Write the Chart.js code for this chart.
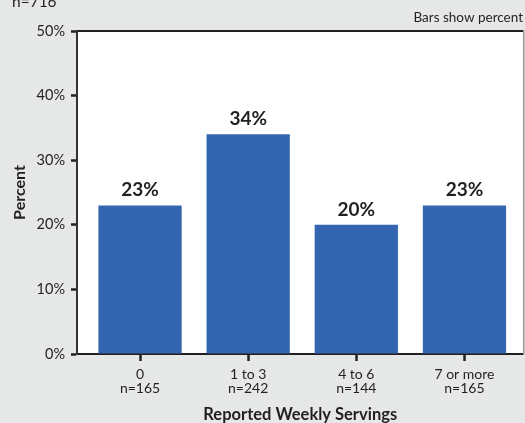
<!DOCTYPE html>
<html>
<head>
<meta charset="utf-8">
<script src="https://cdn.jsdelivr.net/npm/chart.js@4.4.1/dist/chart.umd.min.js"></script>
<style>
  html, body { margin: 0; padding: 0; background: #e6e7e7; }
  #wrap { width: 525px; height: 423px; }
</style>
</head>
<body>
<div id="wrap"><canvas id="chart" width="525" height="423"></canvas></div>
<script>
// Weekly servings survey: share of respondents in each servings group
const categories = ['0', '1 to 3', '4 to 6', '7 or more'];
const sampleSizes = ['n=165', 'n=242', 'n=144', 'n=165'];
const percents = [23, 34, 20, 23];
const yTicks = [0, 10, 20, 30, 40, 50];
const totalNote = 'n=716';
const valueNote = 'Bars show percent';
const xTitle = 'Reported Weekly Servings';
const yTitle = 'Percent';

const FONT = "Lato, 'DejaVu Sans Condensed', sans-serif";
const INK = '#231f20';
const BAR = '#3465b0';
const PAGE = '#e6e7e7';

// Grey page with a white plotting panel
const panelPlugin = {
  id: 'panel',
  beforeDraw(chart) {
    const { ctx, chartArea: a } = chart;
    ctx.save();
    ctx.fillStyle = PAGE;
    ctx.fillRect(0, 0, chart.width, chart.height);
    ctx.fillStyle = '#ffffff';
    ctx.fillRect(a.left, a.top, a.right - a.left, a.bottom - a.top);
    ctx.restore();
  }
};

// Percent labels above each bar plus the two corner notes
const labelPlugin = {
  id: 'barLabels',
  afterDraw(chart) {
    const { ctx } = chart;
    const meta = chart.getDatasetMeta(0);
    ctx.save();
    ctx.fillStyle = INK;
    ctx.textAlign = 'center';
    ctx.textBaseline = 'alphabetic';
    ctx.font = `bold 19px ${FONT}`;
    meta.data.forEach((bar, i) => {
      ctx.fillText(percents[i] + '%', bar.x, bar.y - 9);
    });
    ctx.font = `15.5px ${FONT}`;
    ctx.textAlign = 'left';
    ctx.fillText(totalNote, 12, 7);
    ctx.font = `13.5px ${FONT}`;
    ctx.textAlign = 'right';
    ctx.fillText(valueNote, 523, 22);
    ctx.restore();
  }
};

new Chart(document.getElementById('chart'), {
  type: 'bar',
  data: {
    datasets: [{
      data: percents.map((v, i) => ({ x: i, y: v })),
      backgroundColor: BAR,
      borderWidth: 0,
      categoryPercentage: 1,
      barPercentage: 0.77
    }]
  },
  options: {
    responsive: false,
    animation: false,
    devicePixelRatio: 1,
    layout: { padding: 0 },
    plugins: {
      legend: { display: false },
      tooltip: { enabled: false }
    },
    scales: {
      x: {
        type: 'linear',
        position: 'bottom',
        offset: false,
        min: -0.583,
        max: 3.546,
        afterBuildTicks(scale) {
          scale.ticks = categories.map((_, i) => ({ value: i }));
        },
        afterFit(scale) { scale.height = 69; },
        ticks: {
          color: INK,
          font: { family: FONT, size: 14, lineHeight: 1.02 },
          padding: 6,
          maxRotation: 0,
          autoSkip: false,
          callback: (v) => [categories[v], sampleSizes[v]]
        },
        grid: {
          offset: false,
          drawOnChartArea: false,
          drawTicks: true,
          tickLength: 7,
          tickWidth: 2.5,
          tickColor: INK
        },
        border: { display: true, color: INK, width: 2 },
        title: {
          display: true,
          text: xTitle,
          color: INK,
          font: { family: FONT, size: 16.5, weight: 'bold', lineHeight: 1.0 },
          padding: { top: 0, bottom: 0 }
        }
      },
      xTop: {
        type: 'linear',
        position: 'top',
        offset: false,
        min: 0,
        max: 1,
        afterFit(scale) { scale.height = 31; },
        ticks: { display: false },
        grid: { display: false },
        border: { display: true, color: INK, width: 2 }
      },
      y: {
        type: 'linear',
        position: 'left',
        min: 0,
        max: 50,
        afterBuildTicks(scale) {
          scale.ticks = yTicks.map(v => ({ value: v }));
        },
        afterFit(scale) { scale.width = 77; },
        ticks: {
          color: INK,
          font: { family: FONT, size: 14.5 },
          padding: 6,
          callback: (v) => v + '%'
        },
        grid: {
          drawOnChartArea: false,
          drawTicks: true,
          tickLength: 6,
          tickWidth: 2.5,
          tickColor: INK
        },
        border: { display: true, color: '#333333', width: 2 },
        title: {
          display: true,
          text: yTitle,
          color: INK,
          font: { family: FONT, size: 16, weight: 'bold' },
          padding: { top: 10, bottom: 0 }
        }
      },
      yRight: {
        type: 'linear',
        position: 'right',
        min: 0,
        max: 1,
        afterFit(scale) { scale.width = 1.5; },
        ticks: { display: false },
        grid: { display: false },
        border: { display: true, color: '#9a9a9a', width: 1.5 }
      }
    }
  },
  plugins: [panelPlugin, labelPlugin]
});
</script>
</body>
</html>
